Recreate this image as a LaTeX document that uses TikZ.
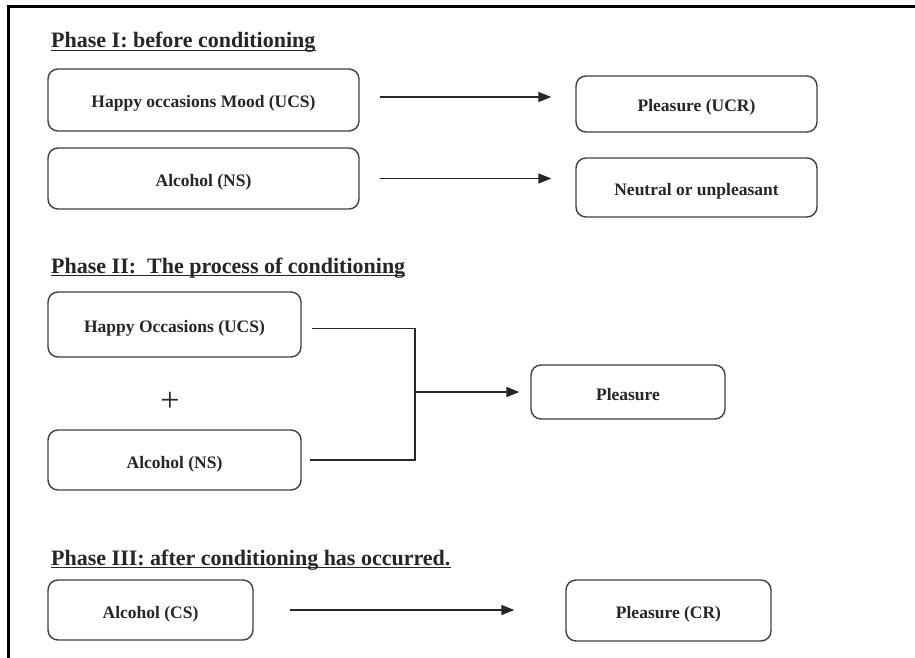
\documentclass[tikz,border=0pt]{standalone}
\usepackage{fontspec}
\setmainfont{Liberation Serif}
\usetikzlibrary{arrows.meta,positioning,calc}

\begin{document}
\begin{tikzpicture}[x=1pt, y=-1pt,
    box/.style={draw=black!75, line width=1.4pt, rounded corners=10pt, align=center, inner sep=0pt,
        font=\fontsize{17.5}{19}\selectfont\bfseries, text=black!85, text height=19pt, text depth=3pt},
    head/.style={anchor=base west, inner sep=0pt, font=\fontsize{22}{25}\selectfont\bfseries, text=black!85},
    uline/.style={line width=1.7pt, black!85},
    link/.style={line width=1.5pt, black!85},
    arr/.style={link, -{Triangle[length=13pt,width=10pt]}}
]
\fill[white] (0,0) rectangle (915,658);
\useasboundingbox (0,0) rectangle (915,658);
\draw[line width=2.7pt] (915,6.7) -- (8.7,6.7) -- (8.7,658);

% Phase I
\node[head] (phaseI) at (51,48) {Phase I: before conditioning};
\draw[uline] ([yshift=-2.5pt]phaseI.base west) -- ([yshift=-2.5pt]phaseI.base east);
\node[box, minimum width=311pt, minimum height=62pt] (ucs) at (203.5,100) {Happy occasions Mood (UCS)};
\node[box, minimum width=241pt, minimum height=56pt] (ucr) at (696.5,104) {Pleasure (UCR)};
\node[box, minimum width=311pt, minimum height=61pt] (ns) at (203.5,178.5) {Alcohol (NS)};
\node[box, minimum width=241pt, minimum height=59pt] (neutral) at (696.5,187.5) {Neutral or unpleasant};
\draw[arr, shorten <=20pt, shorten >=24pt] ([yshift=3pt]ucs.east) -- ([yshift=3pt]ucs.east -| ucr.west);
\draw[arr, shorten <=20pt, shorten >=24pt] (ns.east) -- (ns.east -| neutral.west);

% Phase II
\node[head] (phaseII) at (51,273) {Phase II:\ \ The process of conditioning};
\draw[uline] ([yshift=-2.5pt]phaseII.base west) -- ([yshift=-2.5pt]phaseII.base east);
\node[box, minimum width=253pt, minimum height=65pt] (ucs2) at (174.5,324.5) {Happy Occasions (UCS)};
\node[font=\fontsize{34}{34}\selectfont, text=black!85, inner sep=0pt] (plus) at (170,402) {+};
\node[box, minimum width=253pt, minimum height=60pt] (ns2) at (174.5,460) {Alcohol (NS)};
\node[box, minimum width=194pt, minimum height=54pt] (pleasure) at (628,392) {Pleasure};
\coordinate (join) at (415,392);
\draw[link, shorten <=10pt, shorten >=8pt] ([yshift=-4pt]ucs2.east) -- ([yshift=-4pt]ucs2.east -| join)
    -- (ns2.east -| join) -- (ns2.east);
\draw[arr, shorten >=11pt] (pleasure.west -| join) -- (pleasure.west);

% Phase III
\node[head] (phaseIII) at (51,565) {Phase III: after conditioning has occurred.};
\draw[uline] ([yshift=-2.5pt]phaseIII.base west) -- ([yshift=-2.5pt]phaseIII.base east);
\node[box, minimum width=205pt, minimum height=60pt] (cs) at (150.5,610) {Alcohol (CS)};
\node[box, minimum width=205pt, minimum height=61pt] (cr) at (668.5,610.5) {Pleasure (CR)};
\draw[arr, shorten <=36pt, shorten >=51pt] (cs.east) -- (cs.east -| cr.west);
\end{tikzpicture}
\end{document}
